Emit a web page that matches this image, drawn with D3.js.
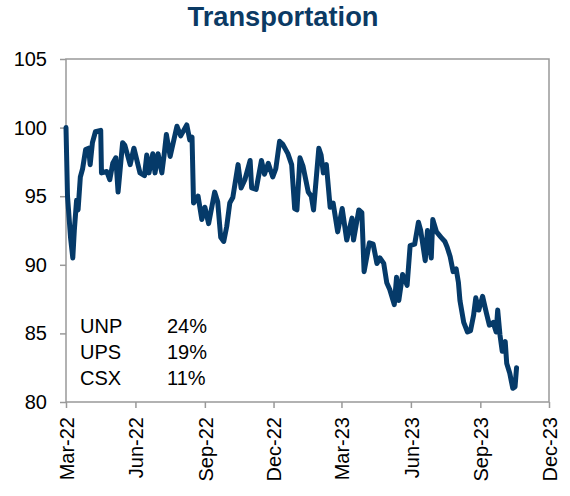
<!DOCTYPE html>
<html>
<head>
<meta charset="utf-8">
<script src="https://cdn.jsdelivr.net/npm/d3@7"></script>
<style>
  body { margin: 0; background: #fff; }
  svg { display: block; font-family: "Liberation Sans", Arial, sans-serif; }
  .axis text { font-size: 20px; fill: #000; }
  .axis path, .axis line { stroke: #999; stroke-width: 1.5; }
</style>
</head>
<body>
<svg width="570" height="496"></svg>
<script>
// index level, one point per visible turn in the line
const dates = [
  '2022-03-01','2022-03-03','2022-03-07','2022-03-10','2022-03-12','2022-03-15','2022-03-17','2022-03-20',
  '2022-03-23','2022-03-27','2022-03-31','2022-04-02','2022-04-05','2022-04-09','2022-04-16','2022-04-17',
  '2022-04-24','2022-04-28','2022-05-02','2022-05-06','2022-05-09','2022-05-15','2022-05-18','2022-05-25',
  '2022-05-30','2022-06-07','2022-06-13','2022-06-16','2022-06-19','2022-06-24','2022-06-27','2022-07-01',
  '2022-07-06','2022-07-09','2022-07-12','2022-07-17','2022-07-26','2022-07-31','2022-08-08','2022-08-12',
  '2022-08-15','2022-08-17','2022-08-23','2022-08-28','2022-09-01','2022-09-06','2022-09-14','2022-09-18',
  '2022-09-22','2022-09-26','2022-09-30','2022-10-04','2022-10-08','2022-10-15','2022-10-19','2022-10-24',
  '2022-10-31','2022-11-02','2022-11-08','2022-11-15','2022-11-19','2022-11-24','2022-11-30','2022-12-04',
  '2022-12-09','2022-12-13','2022-12-20','2022-12-25','2022-12-29','2023-01-01','2023-01-05','2023-01-09',
  '2023-01-16','2023-01-20','2023-01-23','2023-01-30','2023-02-02','2023-02-05','2023-02-09','2023-02-14',
  '2023-02-18','2023-02-24','2023-03-02','2023-03-08','2023-03-15','2023-03-17','2023-03-24','2023-03-28',
  '2023-03-31','2023-04-07','2023-04-12','2023-04-17','2023-04-21','2023-04-26','2023-04-30','2023-05-04',
  '2023-05-10','2023-05-13','2023-05-16','2023-05-21','2023-05-27','2023-05-31','2023-06-06','2023-06-11',
  '2023-06-14','2023-06-20','2023-06-23','2023-06-28','2023-06-30','2023-07-05','2023-07-11','2023-07-16',
  '2023-07-19','2023-07-23','2023-07-27','2023-07-31','2023-08-03','2023-08-05','2023-08-10','2023-08-15',
  '2023-08-19','2023-08-23','2023-08-26','2023-08-30','2023-09-04','2023-09-09','2023-09-13','2023-09-18',
  '2023-09-22','2023-09-24','2023-09-27','2023-09-30','2023-10-04','2023-10-06','2023-10-10','2023-10-14',
  '2023-10-17','2023-10-19'
]
const values = [
  100.0, 95.0, 92.0, 90.5, 92.5, 94.7, 94.0, 96.4,
  97.0, 98.4, 98.5, 97.3, 98.9, 99.7, 99.8, 96.7,
  96.8, 96.2, 97.4, 97.8, 95.3, 98.9, 98.7, 97.3,
  98.5, 96.7, 96.5, 98.0, 96.7, 98.1, 96.7, 98.1,
  96.7, 98.0, 99.5, 97.9, 100.1, 99.4, 100.2, 99.1,
  99.3, 94.5, 95.0, 93.3, 94.2, 93.0, 95.3, 94.6,
  92.0, 91.7, 92.8, 94.5, 94.9, 97.3, 95.6, 96.2,
  97.6, 95.6, 95.5, 97.6, 96.6, 97.4, 96.4, 97.0,
  99.0, 98.8, 98.1, 97.3, 94.1, 94.0, 97.8, 97.2,
  95.3, 95.0, 94.0, 98.5, 98.0, 96.7, 97.3, 94.2,
  94.5, 92.4, 94.1, 91.8, 93.4, 91.8, 94.0, 93.8,
  89.5, 91.6, 91.5, 90.1, 90.5, 90.1, 88.7, 88.2,
  87.1, 89.1, 87.4, 89.3, 88.5, 91.4, 91.5, 93.1,
  92.5, 90.3, 92.5, 90.5, 93.3, 92.4, 92.0, 91.7,
  91.3, 90.6, 89.5, 89.7, 88.7, 87.4, 85.8, 85.1,
  85.2, 86.3, 87.6, 86.7, 87.7, 86.5, 85.6, 85.8,
  85.1, 86.7, 84.9, 83.7, 84.4, 82.8, 82.1, 81.0,
  81.1, 82.5
]
const xTicks = ['2022-03-01','2022-06-01','2022-09-01','2022-12-01','2023-03-01','2023-06-01','2023-09-01','2023-12-01']
const yTicks = [80, 85, 90, 95, 100, 105]
const holdings = ['UNP', 'UPS', 'CSX']
const weights = ['24%', '19%', '11%']

const parse = d3.timeParse('%Y-%m-%d')
const series = dates.map((d, i) => ({ date: parse(d), value: values[i] }))

let svg = d3.select('svg')
let plot = { left: 66, right: 549, top: 59, bottom: 402 }

let scale = {
    x: d3.scaleTime().domain([parse(xTicks[0]), parse(xTicks[xTicks.length - 1])]).range([plot.left, plot.right]),
    y: d3.scaleLinear().domain([80, 105]).range([plot.bottom, plot.top])
}

// Title
svg.append('text')
    .attr('x', 283)
    .attr('y', 26)
    .attr('text-anchor', 'middle')
    .attr('textLength', 191)
    .attr('lengthAdjust', 'spacingAndGlyphs')
    .style('font-family', '"Liberation Sans Narrow", "Liberation Sans", Arial, sans-serif')
    .style('font-weight', 'bold')
    .style('font-size', '28px')
    .style('fill', '#0b3a64')
    .text('Transportation')

// Plot frame
svg.append('rect')
    .attr('x', plot.left)
    .attr('y', plot.top)
    .attr('width', plot.right - plot.left)
    .attr('height', plot.bottom - plot.top)
    .attr('fill', 'none')
    .attr('stroke', '#999')
    .attr('stroke-width', 1.5)

// Y axis
svg.append('g')
    .attr('class', 'axis')
    .attr('transform', `translate(${plot.left},0)`)
    .call(d3.axisLeft(scale.y).tickValues(yTicks).tickSize(6).tickPadding(13).tickFormat(d3.format('d')))
    .call(g => g.select('.domain').remove())

// X axis
svg.append('g')
    .attr('class', 'axis')
    .attr('transform', `translate(0,${plot.bottom})`)
    .call(d3.axisBottom(scale.x).tickValues(xTicks.map(parse)).tickSize(6).tickFormat(d3.timeFormat('%b-%y')))
    .call(g => g.select('.domain').remove())
    .selectAll('text')
    .attr('transform', 'rotate(-90)')
    .attr('text-anchor', 'end')
    .attr('x', -15)
    .attr('y', 0)
    .attr('dy', '0.36em')

// Line
let line = d3.line()
    .x(d => scale.x(d.date))
    .y(d => scale.y(d.value))

svg.append('path')
    .datum(series)
    .attr('fill', 'none')
    .attr('stroke', '#053a69')
    .attr('stroke-width', 5)
    .attr('stroke-linejoin', 'round')
    .attr('stroke-linecap', 'round')
    .attr('d', line)

// Top holdings
let legend = svg.append('g').style('font-size', '20px')

legend.selectAll('.name')
    .data(holdings)
    .enter()
    .append('text')
    .attr('class', 'name')
    .attr('x', 80)
    .attr('y', (d, i) => 333 + i * 26)
    .text(d => d)

legend.selectAll('.weight')
    .data(weights)
    .enter()
    .append('text')
    .attr('class', 'weight')
    .attr('x', 167)
    .attr('y', (d, i) => 333 + i * 26)
    .text(d => d)
</script>
</body>
</html>
